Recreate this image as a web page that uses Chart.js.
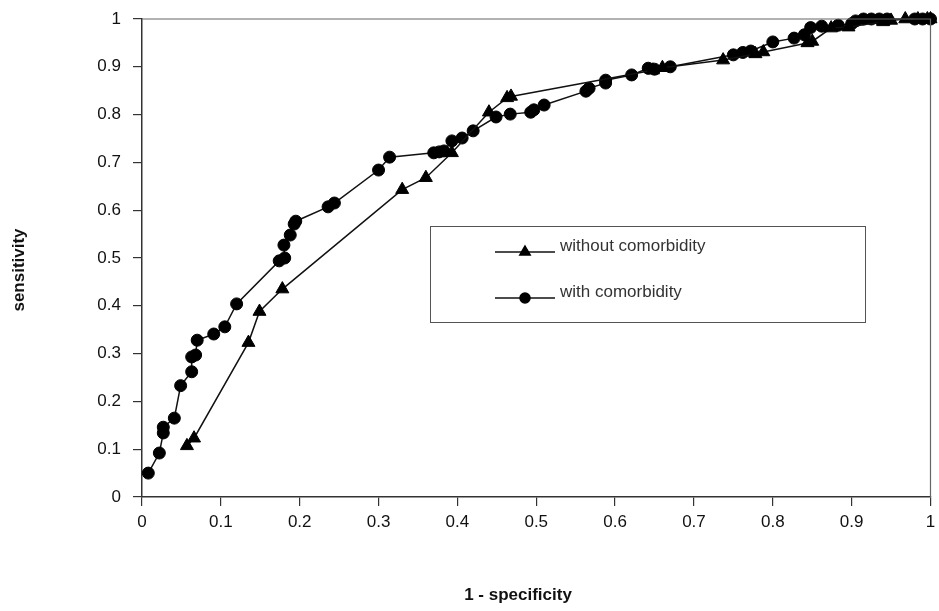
<!DOCTYPE html>
<html>
<head>
<meta charset="utf-8">
<script src="https://cdn.jsdelivr.net/npm/chart.js@4.4.1/dist/chart.umd.min.js"></script>
<style>
    body { margin: 0; background: #fff; }
    #wrap { width: 939px; height: 611px; }
</style>
</head>
<body>
<div id="wrap"><canvas id="rocChart" width="939" height="611"></canvas></div>
<script>
// ROC points
const withoutX = [0.057, 0.066, 0.135, 0.149, 0.178, 0.330, 0.360, 0.393, 0.440, 0.463, 0.468,
    0.648, 0.660, 0.737, 0.778, 0.788, 0.844, 0.850, 0.874, 0.896, 0.940, 0.950, 0.968, 0.984, 0.996, 1.0];
const withoutY = [0.107, 0.123, 0.323, 0.388, 0.435, 0.643, 0.668, 0.720, 0.805, 0.835, 0.838,
    0.893, 0.898, 0.914, 0.927, 0.931, 0.950, 0.953, 0.981, 0.983, 0.994, 0.997, 1.0, 1.0, 1.0, 1.0];

const withX = [0.008, 0.022, 0.027, 0.027, 0.041, 0.049, 0.063, 0.063, 0.068, 0.070, 0.091, 0.105,
    0.120, 0.174, 0.181, 0.180, 0.188, 0.193, 0.195, 0.236, 0.244, 0.300, 0.314, 0.370, 0.377,
    0.383, 0.393, 0.406, 0.420, 0.449, 0.467, 0.493, 0.497, 0.510, 0.563, 0.567, 0.588, 0.588,
    0.621, 0.642, 0.650, 0.670, 0.750, 0.762, 0.772, 0.800, 0.827, 0.840, 0.848, 0.862, 0.883,
    0.900, 0.905, 0.915, 0.925, 0.935, 0.945, 0.980, 0.990, 1.0];
const withY = [0.050, 0.092, 0.134, 0.146, 0.165, 0.233, 0.262, 0.293, 0.297, 0.328, 0.341, 0.356,
    0.404, 0.494, 0.500, 0.527, 0.548, 0.571, 0.577, 0.607, 0.615, 0.684, 0.711, 0.720, 0.722,
    0.724, 0.745, 0.751, 0.766, 0.795, 0.801, 0.805, 0.810, 0.820, 0.849, 0.855, 0.866, 0.872,
    0.883, 0.897, 0.895, 0.900, 0.925, 0.930, 0.933, 0.952, 0.960, 0.967, 0.982, 0.985, 0.987,
    0.990, 0.996, 1.0, 1.0, 1.0, 1.0, 1.0, 1.0, 1.0];

const axisTicks = ['0', '0.1', '0.2', '0.3', '0.4', '0.5', '0.6', '0.7', '0.8', '0.9', '1'];
const seriesNames = ['without comorbidity', 'with comorbidity'];
const xTitle = '1 - specificity';
const yTitle = 'sensitivity';

const toPoints = (xs, ys) => xs.map((x, i) => ({ x: x, y: ys[i] }));

const FONT = '"Liberation Sans", Arial, sans-serif';

// keep the plot box where the original sits, whatever the label sizes are
function fixScaleBox(scale) {
    if (scale.isHorizontal()) {
        scale.height = 114;
    } else {
        scale.width = 142;
    }
    scale.paddingTop = 0;
    scale.paddingBottom = 0;
    scale.paddingLeft = 0;
    scale.paddingRight = 0;
}

// frame, axis titles and the boxed legend
const decorPlugin = {
    id: 'decor',
    afterDraw(chart) {
        const ctx = chart.ctx;
        const area = chart.chartArea;
        ctx.save();

        ctx.strokeStyle = '#666';
        ctx.lineWidth = 1.2;
        ctx.beginPath();
        ctx.moveTo(area.left, area.top);
        ctx.lineTo(area.right, area.top);
        ctx.lineTo(area.right, area.bottom);
        ctx.stroke();

        ctx.fillStyle = '#111';
        ctx.font = 'bold 17px ' + FONT;
        ctx.textAlign = 'center';
        ctx.textBaseline = 'middle';
        ctx.fillText(xTitle, 518, 595);
        ctx.save();
        ctx.translate(19, 270);
        ctx.rotate(-Math.PI / 2);
        ctx.fillText(yTitle, 0, 0);
        ctx.restore();

        // legend
        const box = { left: 430, top: 226, right: 865, bottom: 322 };
        ctx.fillStyle = '#fff';
        ctx.fillRect(box.left, box.top, box.right - box.left, box.bottom - box.top);
        ctx.strokeStyle = '#555';
        ctx.lineWidth = 1;
        ctx.strokeRect(box.left + 0.5, box.top + 0.5, box.right - box.left, box.bottom - box.top);

        const rows = [252, 298];
        chart.data.datasets.forEach((ds, i) => {
            const y = rows[i];
            ctx.strokeStyle = '#111';
            ctx.lineWidth = 1.5;
            ctx.beginPath();
            ctx.moveTo(495, y);
            ctx.lineTo(555, y);
            ctx.stroke();
            ctx.fillStyle = '#000';
            ctx.strokeStyle = '#000';
            Chart.helpers.drawPoint(ctx, {
                pointStyle: ds.pointStyle,
                radius: ds.pointStyle === 'triangle' ? 6 : 5,
                rotation: 0,
                borderWidth: 1
            }, 525, y);
            ctx.fillStyle = '#333';
            ctx.font = '17px ' + FONT;
            ctx.textAlign = 'left';
            ctx.textBaseline = 'middle';
            ctx.fillText(ds.label, 560, y - 6);
        });

        ctx.restore();
    }
};

new Chart(document.getElementById('rocChart'), {
    type: 'line',
    data: {
        datasets: [
            {
                label: seriesNames[0],
                data: toPoints(withoutX, withoutY),
                borderColor: '#111',
                backgroundColor: '#000',
                borderWidth: 1.5,
                pointStyle: 'triangle',
                pointRadius: 7.5,
                pointBorderWidth: 1,
                pointBorderColor: '#000',
                pointBackgroundColor: '#000',
                tension: 0,
                clip: false
            },
            {
                label: seriesNames[1],
                data: toPoints(withX, withY),
                borderColor: '#111',
                backgroundColor: '#000',
                borderWidth: 1.5,
                pointStyle: 'circle',
                pointRadius: 6,
                pointBorderWidth: 1,
                pointBorderColor: '#000',
                pointBackgroundColor: '#000',
                tension: 0,
                clip: false
            }
        ]
    },
    options: {
        responsive: false,
        animation: false,
        layout: { padding: { top: 19, right: 3, left: 0, bottom: 0 } },
        plugins: {
            legend: { display: false },
            tooltip: { enabled: false }
        },
        scales: {
            x: {
                type: 'linear',
                min: 0,
                max: 1,
                afterFit: fixScaleBox,
                border: { display: true, color: '#333', width: 1.5 },
                grid: { display: true, drawOnChartArea: false, drawTicks: true, tickLength: 9, color: '#333', lineWidth: 1.2 },
                ticks: {
                    stepSize: 0.1,
                    padding: 6,
                    maxRotation: 0,
                    color: '#111',
                    font: { family: FONT, size: 17 },
                    callback: (v, i) => axisTicks[i]
                }
            },
            y: {
                type: 'linear',
                min: 0,
                max: 1,
                afterFit: fixScaleBox,
                border: { display: true, color: '#333', width: 1.5 },
                grid: { display: true, drawOnChartArea: false, drawTicks: true, tickLength: 9, color: '#333', lineWidth: 1.2 },
                ticks: {
                    stepSize: 0.1,
                    padding: 12,
                    color: '#111',
                    font: { family: FONT, size: 17 },
                    callback: (v, i) => axisTicks[i]
                }
            }
        }
    },
    plugins: [decorPlugin]
});
</script>
</body>
</html>
